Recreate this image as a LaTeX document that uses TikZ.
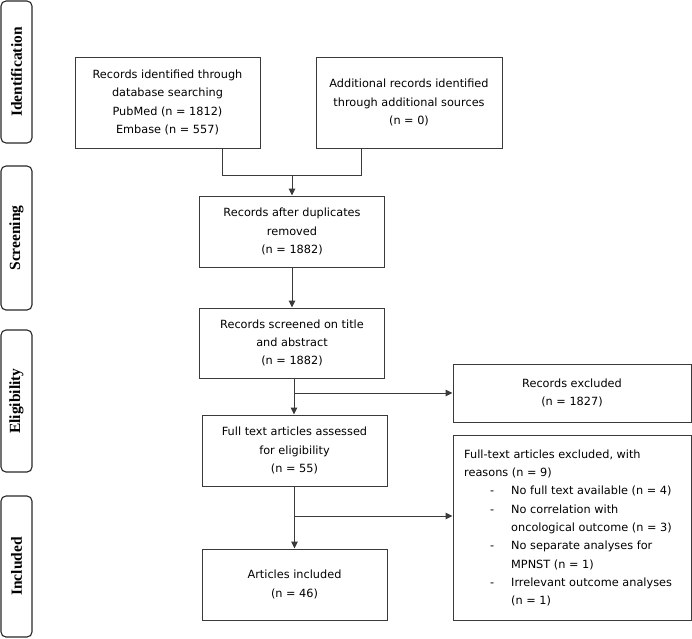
\documentclass[tikz,border=0pt]{standalone}
\usepackage{fontspec}
\setmainfont{DejaVu Sans}
\newfontfamily\sidefont{Liberation Serif}
\usetikzlibrary{arrows.meta}
\definecolor{linegray}{HTML}{3A3A3A}
\newcommand\dashitem{\hspace*{26pt}\makebox[21pt][l]{-}}
\newcommand\contitem{\hspace*{47pt}}
\begin{document}
\begin{tikzpicture}[x=1pt,y=-1pt,
  box/.style={draw=linegray, line width=1pt, rectangle, minimum width=185pt, align=center, inner sep=0pt,
    font=\fontsize{11.3}{18.3}\selectfont},
  sidebox/.style={draw=black!85, line width=1.1pt, rounded corners=5pt, minimum width=31pt, inner sep=0pt},
  sidelabel/.style={rotate=90, font=\sidefont\bfseries\fontsize{15.5}{17}\selectfont, inner sep=0pt},
  conn/.style={draw=linegray, line width=1pt},
  arr/.style={conn, -{Triangle[length=7pt,width=6.5pt]}}
]
\useasboundingbox (0,0) rectangle (692,638);

% side phase boxes
\node[sidebox, minimum height=142pt] (sIdent) at (16.5,72) {};
\node[sidelabel] (lIdent) at (sIdent.center) {Identification};
\node[sidebox, minimum height=144pt] (sScreen) at (16.5,238) {};
\node[sidelabel] (lScreen) at (sScreen.center) {Screening};
\node[sidebox, minimum height=142pt] (sElig) at (16.5,401) {};
\node[sidelabel] (lElig) at (sElig.center) {Eligibility};
\node[sidebox, minimum height=141pt] (sIncl) at (16.5,566.5) {};
\node[sidelabel] (lIncl) at (sIncl.center) {Included};

% main boxes
\node[box, minimum height=91pt] (b1) at (167.5,102.5)
  {Records identified through\\database searching\\PubMed (n = 1812)\\Embase (n = 557)};
\node[box, minimum width=186pt, minimum height=91pt] (b2) at (409,102.5)
  {Additional records identified\\through additional sources\\(n = 0)};
\node[box, minimum height=71pt] (b3) at (292,231.5)
  {Records after duplicates\\removed\\(n = 1882)};
\node[box, minimum height=70pt] (b4) at (292,343)
  {Records screened on title\\and abstract\\(n = 1882)};
\node[box, minimum height=71pt] (b5) at (294.5,450.5)
  {Full text articles assessed\\for eligibility\\(n = 55)};
\node[box, minimum height=71pt] (b6) at (294.5,584.5)
  {Articles included\\(n = 46)};
\node[box, minimum width=238pt, minimum height=58pt] (rex) at (572,393)
  {Records excluded\\(n = 1827)};
\node[box, minimum width=238pt, minimum height=185pt] (rsn) at (572,527.5) {};
\node[anchor=west, align=left, inner sep=0pt, font=\fontsize{11.3}{18.3}\selectfont] (rsntext) at (464,528)
  {Full-text articles excluded, with\\
   reasons (n = 9)\\
   \dashitem No full text available (n = 4)\\
   \dashitem No correlation with\\
   \contitem oncological outcome (n = 3)\\
   \dashitem No separate analyses for\\
   \contitem MPNST (n = 1)\\
   \dashitem Irrelevant outcome analyses\\
   \contitem (n = 1)};

% connectors
\coordinate (jL) at (222,175);
\coordinate (jR) at (361,175);
\coordinate (jM) at (292,175);
\draw[conn] (b1.south -| jL) -- (jL) -- (jR) -- (b2.south -| jR);
\draw[arr] (jM) -- (b3.north -| jM);
\draw[arr] (b3) -- (b4);
\coordinate (k1) at (294,393);
\draw[arr] (b4.south -| k1) -- (b5.north -| k1);
\draw[arr] (k1) -- (rex.west);
\coordinate (k2) at (294.5,516);
\draw[arr] (b5) -- (b6);
\draw[arr] (k2) -- (k2 -| rsn.west);
\end{tikzpicture}
\end{document}
